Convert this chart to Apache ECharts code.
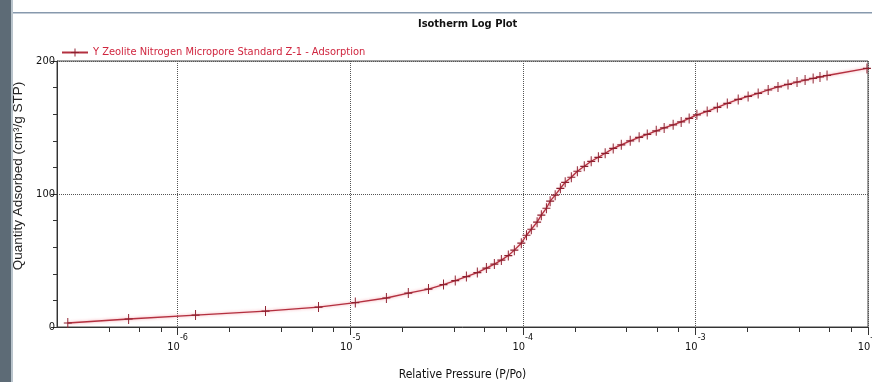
<!DOCTYPE html>
<html>
<head>
<meta charset="utf-8">
<script src="https://cdn.jsdelivr.net/npm/echarts@6/dist/echarts.min.js"></script>
<style>
  html, body { margin: 0; padding: 0; background: #fff; }
  #chart { width: 872px; height: 382px; }
</style>
</head>
<body>
<div id="chart"></div>
<script>
// relative pressure P/Po and quantity adsorbed (cm3/g STP)
const pressure = [
  2.31e-7, 5.2e-7, 1.27e-6, 3.23e-6, 6.55e-6, 1.07e-5, 1.62e-5, 2.17e-5, 2.84e-5, 3.47e-5,
  4.06e-5, 4.71e-5, 5.45e-5, 6.15e-5, 6.84e-5, 7.51e-5, 8.24e-5, 8.93e-5, 9.8e-5, 1.05e-4,
  1.12e-4, 1.21e-4, 1.28e-4, 1.37e-4, 1.44e-4, 1.54e-4, 1.65e-4, 1.76e-4, 1.91e-4, 2.07e-4,
  2.27e-4, 2.49e-4, 2.74e-4, 3.0e-4, 3.34e-4, 3.72e-4, 4.19e-4, 4.72e-4, 5.26e-4, 5.93e-4,
  6.59e-4, 7.43e-4, 8.27e-4, 9.2e-4, 1.02e-3, 1.17e-3, 1.34e-3, 1.53e-3, 1.77e-3, 2.02e-3,
  2.31e-3, 2.64e-3, 3.01e-3, 3.44e-3, 3.88e-3, 4.32e-3, 4.81e-3, 5.27e-3, 5.79e-3, 9.86e-3
];
const quantity = [
  3.0, 6.0, 9.0, 12.0, 15.0, 18.4, 21.8, 25.5, 28.5, 31.9,
  34.9, 37.9, 40.9, 44.3, 47.3, 50.3, 53.7, 57.8, 63.0, 69.0,
  73.5, 78.8, 84.1, 89.3, 94.6, 99.1, 104.3, 108.8, 112.6, 117.1,
  120.8, 124.6, 127.6, 130.6, 134.3, 137.0, 140.0, 142.6, 144.8, 147.5,
  149.7, 152.0, 154.2, 156.8, 159.5, 162.1, 165.1, 168.1, 171.1, 173.4,
  175.6, 178.2, 180.5, 182.4, 184.2, 185.7, 186.9, 188.0, 189.1, 194.4
];
const minorTicks = [
  4e-7, 6e-7, 8e-7, 2e-6, 4e-6, 6e-6, 8e-6, 2e-5, 4e-5, 6e-5, 8e-5,
  2e-4, 4e-4, 6e-4, 8e-4, 2e-3, 4e-3, 6e-3, 8e-3
];
const seriesName = 'Y Zeolite Nitrogen Micropore Standard Z-1 - Adsorption';

const narrow = '"Liberation Sans Narrow", "Arial Narrow", "DejaVu Sans Condensed", sans-serif';
const plus = 'path://M-0.6,-5h1.2v4.4h4.4v1.2h-4.4v4.4h-1.2v-4.4h-4.4v-1.2h4.4z';

const chart = echarts.init(document.getElementById('chart'));
chart.setOption({
  backgroundColor: '#fff',
  animation: false,
  title: {
    text: 'Isotherm Log Plot',
    left: 413,
    top: 14,
    textStyle: { fontFamily: narrow, fontSize: 11, fontWeight: 'bold', color: '#111' }
  },
  legend: {
    left: 56,
    top: 42,
    itemWidth: 26,
    itemHeight: 10,
    itemGap: 6,
    textStyle: { fontFamily: narrow, fontSize: 11, color: '#d0263f' },
    data: [seriesName]
  },
  graphic: [
    { type: 'rect', left: 0, top: 0, shape: { width: 11, height: 382 }, style: { fill: '#5d6b76' } },
    { type: 'rect', left: 11, top: 0, shape: { width: 2, height: 382 }, style: { fill: '#b9c4cc' } },
    { type: 'rect', left: 13, top: 12, shape: { width: 859, height: 1.5 }, style: { fill: '#8799ad' } }
  ],
  grid: {
    left: 57,
    right: 4,
    top: 61,
    bottom: 55,
    outerBoundsMode: 'none',
    containLabel: false,
    show: true,
    borderColor: '#444',
    borderWidth: 1
  },
  xAxis: [
    {
      type: 'log',
      logBase: 10,
      min: 2e-7,
      max: 1e-2,
      name: 'Relative Pressure (P/Po)',
      nameLocation: 'middle',
      nameGap: 42,
      nameTextStyle: { fontFamily: narrow, fontSize: 12, color: '#111' },
      axisLine: { lineStyle: { color: '#333', width: 1 } },
      axisTick: { length: 8, lineStyle: { color: '#333' } },
      axisLabel: {
        showMinLabel: false,
        hideOverlap: false,
        margin: 6,
        formatter: function (v) {
          const e = Math.round(Math.log10(v));
          return '{b|10}{s|' + e + '}';
        },
        rich: {
          b: { fontFamily: narrow, fontSize: 11, color: '#111', padding: [8, 0, 0, 0] },
          s: { fontFamily: narrow, fontSize: 9, color: '#111', padding: [0, 0, 12, 0] }
        }
      },
      splitLine: { show: true, lineStyle: { color: '#555', type: 'dotted', width: 1 } }
    },
    {
      type: 'log',
      logBase: 10,
      min: 2e-7,
      max: 1e-2,
      position: 'bottom',
      axisLine: { show: false },
      axisLabel: { show: false },
      splitLine: { show: false },
      axisTick: { show: true, length: 5, customValues: minorTicks, lineStyle: { color: '#333' } }
    }
  ],
  yAxis: {
    type: 'value',
    min: 0,
    max: 200,
    interval: 100,
    name: 'Quantity Adsorbed (cm³/g STP)',
    nameLocation: 'middle',
    nameRotate: 90,
    nameGap: 25,
    nameTextStyle: { fontFamily: 'Liberation Sans, Arial, sans-serif', fontSize: 13.5, color: '#222', padding: [0, 0, 0, 36] },
    axisLine: { show: true, lineStyle: { color: '#333', width: 1 } },
    axisTick: { show: true, length: 6, lineStyle: { color: '#333' } },
    minorTick: { show: true, splitNumber: 5, length: 4, lineStyle: { color: '#333' } },
    axisLabel: { fontFamily: narrow, fontSize: 11, color: '#111', margin: 2 },
    splitLine: { show: true, lineStyle: { color: '#555', type: 'dotted', width: 1 } }
  },
  series: [{
    name: seriesName,
    type: 'line',
    xAxisIndex: 0,
    data: pressure.map((p, i) => [p, quantity[i]]),
    symbol: plus,
    symbolSize: [8, 10],
    showAllSymbol: true,
    itemStyle: { color: '#8e1f2e' },
    lineStyle: { color: '#b3303f', width: 1.3, shadowColor: 'rgba(235,70,90,0.55)', shadowBlur: 3 }
  }]
});
</script>
</body>
</html>
